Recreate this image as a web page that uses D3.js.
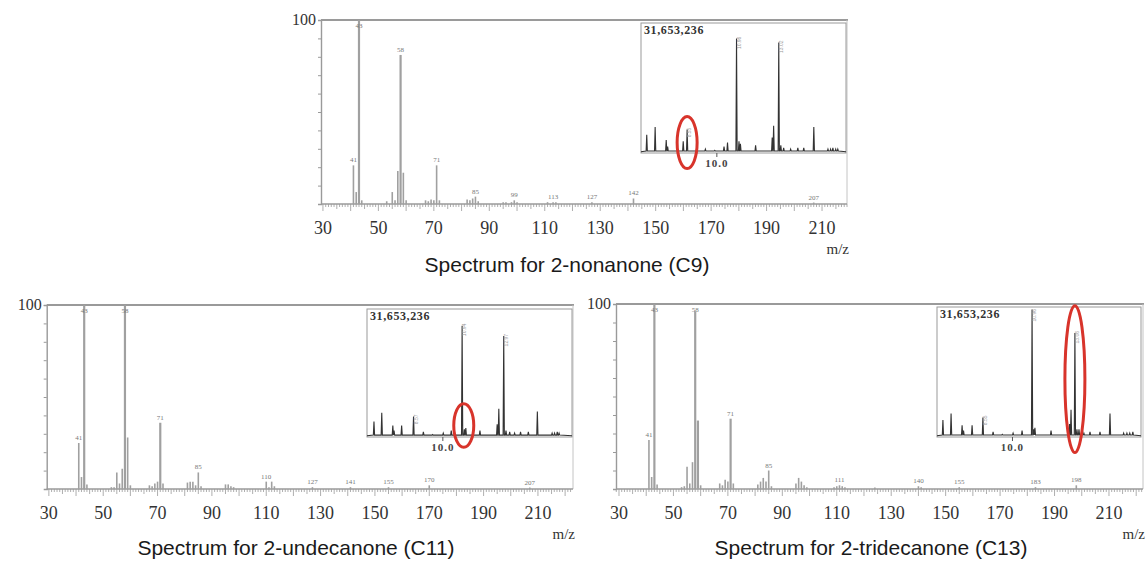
<!DOCTYPE html>
<html>
<head>
<meta charset="utf-8">
<script src="https://cdn.jsdelivr.net/npm/d3@7"></script>
<style>
  body { margin: 0; background: #ffffff; }
  svg { display: block; }
</style>
</head>
<body>
<div id="chart"></div>
<script>
// ---- data (m/z, relative intensity %) ----
var c9Peaks = [[41,21],[42,6.5],[43,100],[44,2],[53,1.5],[55,6.5],[56,2],[57,18],[58,81],[59,17],[60,2],
  [67,2],[68,1.5],[69,2.5],[70,2],[71,21],[72,2],[82,2.5],[83,2],[84,3],[85,4],[86,1.5],
  [95,1],[96,1],[98,1],[99,2],[100,1],[111,1],[113,1],[114,1],[127,1],[142,3],[207,0.8]];
var c9Labels = [41,43,58,71,85,99,113,127,142,207];

var c11Peaks = [[41,25],[42,6.5],[43,100],[44,2.5],[53,1],[54,1],[55,9],[56,3],[57,11],[58,100],[59,28],[60,2],
  [67,2],[68,1.5],[69,3],[70,4],[71,36],[72,3],[81,3.5],[82,4],[83,4],[84,2],[85,9],[86,1.5],
  [95,2.5],[96,2.5],[97,1.5],[98,1],[110,4],[111,1],[112,4],[113,1.5],[127,1],[141,1],[155,1],[170,2],[207,0.8]];
var c11Labels = [41,43,58,71,85,110,127,141,155,170,207];

var c13Peaks = [[41,26.5],[42,6.5],[43,100],[44,2.5],[53,1],[54,1.5],[55,12],[56,3],[57,14.5],[58,96],[59,37],[60,2],
  [67,3],[68,2],[69,5],[70,4],[71,38],[72,3],[81,2.5],[82,4],[83,6],[84,4],[85,10],[86,1.5],
  [95,3],[96,6],[97,4],[98,2],[99,1],[109,1],[110,1.5],[111,2],[112,1.5],[113,1],[124,0.8],
  [140,1.5],[141,1],[155,1],[183,1],[198,2]];
var c13Labels = [41,43,58,71,85,111,140,155,183,198];

var xTickLabels = [30,50,70,90,110,130,150,170,190,210];

// ---- chromatogram insets (retention time min, % of inset height) ----
var tic1Peaks = [[6.58,14],[6.99,20],[7.53,10],[7.60,5],[8.36,9],[8.55,18],[9.44,3],[9.9,2],[10.35,5],[10.52,8],
  [10.96,88],[11.08,9],[11.15,7],[11.89,6],[12.70,12],[12.77,21],[13.02,85],[13.12,6],[13.26,4],[13.6,3],
  [13.95,4],[14.24,4],[14.73,20],[15.42,3],[15.55,3],[15.66,4],[15.80,3],[15.90,3]];
var tic2Peaks = [[6.64,12],[7.02,19],[7.56,9],[7.62,5],[7.99,9],[8.57,16],[9.05,4],[9.5,2],[10.02,3],[10.41,5],
  [10.94,87],[11.05,6],[11.12,7],[11.81,5],[12.65,10],[12.73,22],[12.97,79],[13.08,5],[13.26,4],[13.5,3],
  [13.79,4],[14.17,4],[14.61,20],[15.33,3],[15.45,3],[15.58,4],[15.67,3]];
var tic3Peaks = [[6.59,13],[6.99,18],[7.53,9],[7.60,5],[8.02,9],[8.55,15],[9.05,4],[9.5,2],[10.03,3],[10.47,5],
  [10.96,98],[11.04,6],[11.10,7],[11.89,5],[12.80,10],[12.87,21],[13.06,80],[13.16,6],[13.26,6],[13.5,3],
  [13.80,4],[14.29,4],[14.78,18],[15.45,3],[15.61,3],[15.75,3],[15.90,4]];
var ticTags1 = [8.55,10.96,13.02];
var ticTags2 = [8.57,10.94,12.97];
var ticTags3 = [8.55,10.96,13.06];
var ticTotal = "31,653,236";
var ticTickLabel = 10.0;

// highlighted peak in each inset: [time, low %, high %]
var mark1 = [8.55,-12,28];
var mark2 = [11.02,-8,26];
var mark3 = [13.06,-12,101];

var titles = ["Spectrum for 2-nonanone (C9)", "Spectrum for 2-undecanone (C11)", "Spectrum for 2-tridecanone (C13)"];

var width = 1146, height = 561;
var svg = d3.select("#chart").append("svg")
  .attr("width", width)
  .attr("height", height);

var serif = "'Liberation Serif','DejaVu Serif',serif";
var sans = "'Liberation Sans',Arial,sans-serif";
var axisColor = "#9a9a9a";
var barColor = "#a0a0a0";

// panel frames (layout only)
var panels = [
  {peaks: c9Peaks, labels: c9Labels, title: titles[0], titleX: 567, titleY: 272,
   left: 321, right: 847, top: 20, bottom: 204, dom: [29.3, 219],
   inset: {left: 641, right: 846, top: 23, bottom: 153, peaks: tic1Peaks, tags: ticTags1, mark: mark1}},
  {peaks: c11Peaks, labels: c11Labels, title: titles[1], titleX: 296, titleY: 555,
   left: 46.7, right: 573, top: 305, bottom: 489, dom: [29.2, 222.9],
   inset: {left: 367, right: 572, top: 309, bottom: 437, peaks: tic2Peaks, tags: ticTags2, mark: mark2}},
  {peaks: c13Peaks, labels: c13Labels, title: titles[2], titleX: 871, titleY: 555,
   left: 616, right: 1143, top: 304, bottom: 489, dom: [28.9, 222.5],
   inset: {left: 937, right: 1141, top: 307, bottom: 437, peaks: tic3Peaks, tags: ticTags3, mark: mark3}}
];

panels.forEach(function(p){
  drawSpectrum(p);
  drawInset(p.inset);
});

function drawSpectrum(p){
  var g = svg.append("g");
  var x = d3.scaleLinear().domain(p.dom).range([p.left, p.right]);
  var y = d3.scaleLinear().domain([0, 100]).range([p.bottom, p.top]);

  // frame: top + right
  g.append("line").attr("x1", p.left).attr("x2", p.right + 1).attr("y1", p.top).attr("y2", p.top)
    .attr("stroke", axisColor).attr("stroke-width", 1.8);
  g.append("line").attr("x1", p.right).attr("x2", p.right).attr("y1", p.top).attr("y2", p.bottom)
    .attr("stroke", "#c4c4c4").attr("stroke-width", 1);

  // y axis with small ticks every 10 %
  var yAxis = d3.axisLeft(y).tickValues(d3.range(10, 101, 10)).tickSize(3).tickFormat("");
  var ya = g.append("g").attr("transform", "translate(" + p.left + ",0)").call(yAxis);
  ya.select(".domain").attr("stroke", axisColor).attr("stroke-width", 1.4);
  ya.selectAll(".tick line").attr("stroke", axisColor);
  g.append("text").attr("x", p.left - 5).attr("y", y(100) + 5)
    .attr("text-anchor", "end").attr("font-family", serif).attr("font-size", 16)
    .attr("fill", "#333").text("100");

  // x axis: minor ticks each unit, longer every 5 and 10
  var lo = Math.ceil(p.dom[0]), hi = Math.floor(p.dom[1]);
  var ticks = d3.range(lo, hi + 1);
  var xa = g.append("g").attr("transform", "translate(0," + p.bottom + ")");
  xa.selectAll("line").data(ticks).enter().append("line")
    .attr("x1", function(d){ return x(d); }).attr("x2", function(d){ return x(d); })
    .attr("y1", 0)
    .attr("y2", function(d){ return d % 10 === 0 ? 7 : (d % 5 === 0 ? 5 : 3); })
    .attr("stroke", axisColor).attr("stroke-width", 0.8);
  xa.append("line").attr("x1", p.left).attr("x2", p.right).attr("y1", 0).attr("y2", 0)
    .attr("stroke", axisColor).attr("stroke-width", 1.4);
  xa.selectAll("text").data(xTickLabels).enter().append("text")
    .attr("x", function(d){ return x(d); }).attr("y", 30)
    .attr("text-anchor", "middle").attr("font-family", serif).attr("font-size", 18)
    .attr("fill", "#333").text(function(d){ return d; });
  g.append("text").attr("x", p.right + 2).attr("y", p.bottom + 50)
    .attr("text-anchor", "end").attr("font-family", serif).attr("font-size", 15)
    .attr("fill", "#333").text("m/z");

  // peaks
  g.selectAll("line.peak").data(p.peaks).enter().append("line").attr("class", "peak")
    .attr("x1", function(d){ return x(d[0]); }).attr("x2", function(d){ return x(d[0]); })
    .attr("y1", y(0)).attr("y2", function(d){ return y(d[1]); })
    .attr("stroke", barColor)
    .attr("stroke-width", function(d){ return d[1] > 30 ? 2.2 : 1.6; });

  // peak labels
  var lookup = {};
  p.peaks.forEach(function(d){ lookup[d[0]] = d[1]; });
  g.selectAll("text.plab").data(p.labels).enter().append("text").attr("class", "plab")
    .attr("x", function(d){ return x(d); })
    .attr("y", function(d){ return Math.max(y(lookup[d] || 0) - 3, p.top + 8); })
    .attr("text-anchor", "middle").attr("font-family", serif).attr("font-size", 7)
    .attr("fill", "#777").text(function(d){ return d; });

  // title
  svg.append("text").attr("x", p.titleX).attr("y", p.titleY)
    .attr("text-anchor", "middle").attr("font-family", sans).attr("font-size", 21)
    .attr("fill", "#1a1a1a").text(p.title);
}

function drawInset(s){
  var g = svg.append("g");
  var x = d3.scaleLinear().domain([6.3, 16.3]).range([s.left, s.right]);
  var y = d3.scaleLinear().domain([0, 100]).range([s.bottom, s.top]);

  g.append("rect").attr("x", s.left).attr("y", s.top)
    .attr("width", s.right - s.left).attr("height", s.bottom - s.top)
    .attr("fill", "#fff").attr("stroke", "#9a9a9a").attr("stroke-width", 1);

  // trace: baseline with narrow spikes
  var pts = [[6.3, 1]];
  s.peaks.forEach(function(d){
    pts.push([d[0] - 0.03, 1.5]);
    pts.push([d[0], d[1]]);
    pts.push([d[0] + 0.03, 1.5]);
  });
  pts.push([16.3, 1]);
  var line = d3.line().x(function(d){ return x(d[0]); }).y(function(d){ return y(d[1]); });
  g.append("path").attr("d", line(pts)).attr("fill", "none")
    .attr("stroke", "#333").attr("stroke-width", 1.1);

  // tick + label for 10.0
  g.append("line").attr("x1", x(ticTickLabel)).attr("x2", x(ticTickLabel))
    .attr("y1", y(0)).attr("y2", y(0) + 4).attr("stroke", "#555");
  g.append("text").attr("x", x(ticTickLabel)).attr("y", y(0) + 14)
    .attr("text-anchor", "middle").attr("font-family", serif).attr("font-size", 11)
    .attr("font-weight", "bold").attr("letter-spacing", 1).attr("fill", "#444")
    .text(ticTickLabel.toFixed(1));
  g.append("text").attr("x", s.left + 3).attr("y", s.top + 11)
    .attr("font-family", serif).attr("font-size", 12).attr("font-weight", "bold")
    .attr("letter-spacing", 0.6).attr("fill", "#333").text(ticTotal);

  // tiny peak tags
  var hmap = {};
  s.peaks.forEach(function(d){ hmap[d[0]] = d[1]; });
  s.tags.forEach(function(t){
    var ty = Math.max(y(hmap[t]) - 2, s.top + 2);
    g.append("text").attr("transform", "translate(" + (x(t) + 4) + "," + ty + ") rotate(-90)")
      .attr("font-family", sans).attr("font-size", 5).attr("fill", "#999")
      .attr("text-anchor", "end").text(t.toFixed(2));
  });

  // red ring around highlighted peak
  var m = s.mark;
  g.append("ellipse").attr("cx", x(m[0])).attr("cy", (y(m[1]) + y(m[2])) / 2)
    .attr("rx", 10).attr("ry", (y(m[1]) - y(m[2])) / 2)
    .attr("fill", "none").attr("stroke", "#d8342b").attr("stroke-width", 3);
}
</script>
</body>
</html>
